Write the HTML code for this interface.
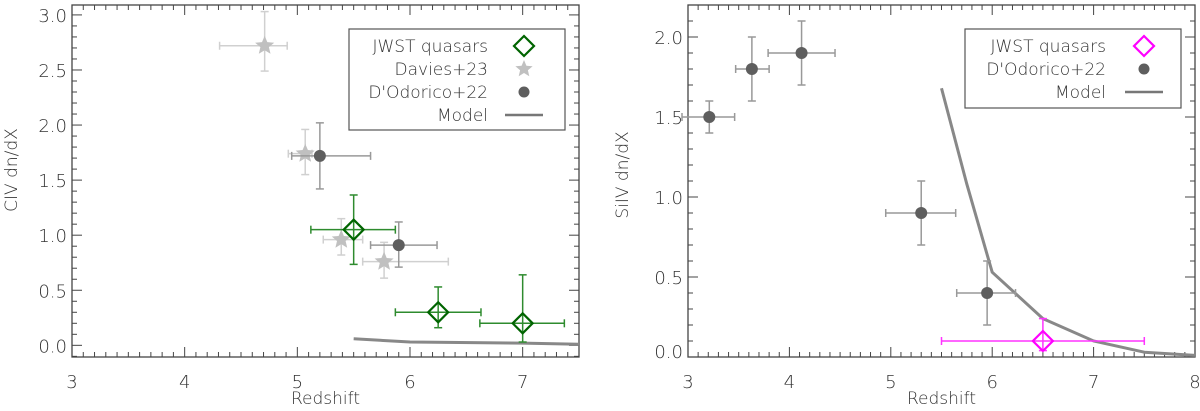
<!DOCTYPE html>
<html><head><meta charset="utf-8">
<style>
html,body{margin:0;padding:0;background:#fff;}
svg{display:block;font-family:"DejaVu Sans","Liberation Sans",sans-serif;}
text{fill:#333;font-weight:300;}
</style></head>
<body>
<svg id="chart" width="1200" height="411" viewBox="0 0 1200 411" xmlns="http://www.w3.org/2000/svg"></svg>
<script>
// ---- Left panel data (CIV) ----
const civJwstX=[5.50,6.25,7.00];
const civJwstY=[1.05,0.30,0.20];
const civJwstXlo=[5.12,5.87,6.62];
const civJwstXhi=[5.87,6.63,7.37];
const civJwstYlo=[0.735,0.16,0.03];
const civJwstYhi=[1.365,0.53,0.64];
const civDavX=[4.71,5.07,5.39,5.77];
const civDavY=[2.72,1.74,0.96,0.76];
const civDavXlo=[4.31,4.92,5.23,5.58];
const civDavXhi=[4.91,5.13,5.58,6.34];
const civDavYlo=[2.49,1.55,0.82,0.61];
const civDavYhi=[3.03,1.96,1.15,0.935];
const civOdoX=[5.20,5.90];
const civOdoY=[1.72,0.91];
const civOdoXlo=[4.95,5.65];
const civOdoXhi=[5.65,6.24];
const civOdoYlo=[1.42,0.71];
const civOdoYhi=[2.02,1.12];
const civModelX=[5.5,6.0,7.0,7.5];
const civModelY=[0.06,0.03,0.02,0.01];
const civXTicks=[3,4,5,6,7];
const civYTicks=["0.0","0.5","1.0","1.5","2.0","2.5","3.0"];
// ---- Right panel data (SiIV) ----
const siJwstX=[6.50];
const siJwstY=[0.10];
const siJwstXlo=[5.50];
const siJwstXhi=[7.50];
const siJwstYlo=[0.04];
const siJwstYhi=[0.24];
const siOdoX=[3.21,3.63,4.12,5.30,5.95];
const siOdoY=[1.50,1.80,1.90,0.90,0.40];
const siOdoXlo=[2.94,3.47,3.79,4.95,5.65];
const siOdoXhi=[3.46,3.80,4.45,5.64,6.23];
const siOdoYlo=[1.40,1.60,1.70,0.70,0.20];
const siOdoYhi=[1.60,2.00,2.10,1.10,0.60];
const siModelX=[5.5,5.75,6.0,6.5,7.0,7.5,8.0];
const siModelY=[1.68,1.08,0.53,0.24,0.10,0.03,0.01];
const siXTicks=[3,4,5,6,7,8];
const siYTicks=["0.0","0.5","1.0","1.5","2.0"];

const NS="http://www.w3.org/2000/svg";
const svg=document.getElementById('chart');
function mk(tag,attrs,parent){const e=document.createElementNS(NS,tag);for(const k in attrs)e.setAttribute(k,attrs[k]);(parent||svg).appendChild(e);return e;}

function panel(cfg){
  const g=mk('g',{});
  
  
  const X=v=>cfg.x0+(v-cfg.xmin)*(cfg.x1-cfg.x0)/(cfg.xmax-cfg.xmin);
  const Y=v=>cfg.y1-(v-cfg.ymin)*(cfg.y1-cfg.y0)/(cfg.ymax-cfg.ymin);
  const frame=mk('rect',{x:cfg.x0,y:cfg.y0,width:cfg.x1-cfg.x0,height:cfg.y1-cfg.y0,fill:'none',stroke:'#444','stroke-width':1.3},g);
  
  
  for(let i=Math.round(cfg.xmin*10);i<=Math.round(cfg.xmax*10);i++){
    const v=i/10,px=X(v),maj=i%10===0,L=maj?10:5;
    mk('line',{x1:px,x2:px,y1:cfg.y1,y2:cfg.y1-L,stroke:'#444','stroke-width':1},g);
    mk('line',{x1:px,x2:px,y1:cfg.y0,y2:cfg.y0+L,stroke:'#444','stroke-width':1},g);
  }
  cfg.xticks.forEach(v=>{const t=mk('text',{x:X(v),y:cfg.y1+31,'font-size':18,'text-anchor':'middle'},g);t.textContent=v;
    
    });
  for(let i=Math.ceil(cfg.ymin*10-1e-6);i<=Math.floor(cfg.ymax*10+1e-6);i++){
    const v=i/10,py=Y(v),maj=i%5===0,L=maj?10:5;
    mk('line',{x1:cfg.x0,x2:cfg.x0+L,y1:py,y2:py,stroke:'#444','stroke-width':1},g);
    mk('line',{x1:cfg.x1,x2:cfg.x1-L,y1:py,y2:py,stroke:'#444','stroke-width':1},g);
  }
  cfg.yticks.forEach(s=>{const v=parseFloat(s);let py=Y(v);if(py>cfg.y1-6)py=cfg.y1-6;
    const t=mk('text',{x:cfg.x0-5,y:py+7,'font-size':18,'text-anchor':'end'},g);t.textContent=s;
    
    });
  const xt=mk('text',{x:(cfg.x0+cfg.x1)/2,y:404,'font-size':17,'text-anchor':'middle'},g);xt.textContent='Redshift';
  
  
  const yt=mk('text',{x:0,y:0,'font-size':17,'text-anchor':'middle',transform:`translate(${cfg.ytx},${cfg.yty}) rotate(-90)`},g);yt.textContent=cfg.ytitle;
  
  
  const pts=cfg.mX.map((v,i)=>X(v)+','+Y(cfg.mY[i])).join(' ');
  const ml=mk('polyline',{points:pts,fill:'none',stroke:'#888','stroke-width':3},g);
  
  
  function err(xs,ys,xlo,xhi,ylo,yhi,col,sw){
    xs.forEach((v,i)=>{
      const eg=mk('g',{stroke:col,'stroke-width':sw},g);
      
      
      const px=X(v),py=Y(ys[i]);
      const a=Math.max(X(xlo[i]),cfg.x0-6),b=X(xhi[i]);
      mk('line',{x1:a,x2:b,y1:py,y2:py},eg);
      mk('line',{x1:a,x2:a,y1:py-4,y2:py+4},eg);
      mk('line',{x1:b,x2:b,y1:py-4,y2:py+4},eg);
      const c=Y(yhi[i]),d=Y(ylo[i]);
      mk('line',{x1:px,x2:px,y1:c,y2:d},eg);
      mk('line',{x1:px-4,x2:px+4,y1:c,y2:c},eg);
      mk('line',{x1:px-4,x2:px+4,y1:d,y2:d},eg);
    });
  }
  function star(cx,cy,r,col,parent,name){
    let p=[];for(let k=0;k<10;k++){const a=-Math.PI/2+k*Math.PI/5,rr=k%2?r*0.45:r;p.push((cx+rr*Math.cos(a)).toFixed(1)+','+(cy+rr*Math.sin(a)).toFixed(1));}
    const s=mk('polygon',{points:p.join(' '),fill:col},parent);
    
    
  }
  function diamond(cx,cy,col,parent,name){
    const d=mk('polygon',{points:`${cx},${cy-10} ${cx+10},${cy} ${cx},${cy+10} ${cx-10},${cy}`,fill:'none',stroke:col,'stroke-width':2.2},parent);
    
    
  }
  if(cfg.dav){
    const d=cfg.dav;err(d.x,d.y,d.xlo,d.xhi,d.ylo,d.yhi,'#d0d0d0',1.5);
    d.x.forEach((v,i)=>star(X(v),Y(d.y[i]),10,'#c0c0c0',g,'davies-point'));
  }
  const o=cfg.odo;err(o.x,o.y,o.xlo,o.xhi,o.ylo,o.yhi,'#999',1.5);
  o.x.forEach((v,i)=>{const c=mk('circle',{cx:X(v),cy:Y(o.y[i]),r:6,fill:'#5e5e5e'},g);
    
    });
  const j=cfg.jw;err(j.x,j.y,j.xlo,j.xhi,j.ylo,j.yhi,cfg.jcolLight,1.5);
  j.x.forEach((v,i)=>diamond(X(v),Y(j.y[i]),cfg.jcol,g,'jwst-point'));
  const L=cfg.leg;
  const lg=mk('g',{},g);
  
  
  mk('rect',{x:L.x,y:L.y,width:L.w,height:L.h,fill:'#fff',stroke:'#555','stroke-width':1.2},lg);
  L.rows.forEach((r,i)=>{
    const cy=L.y+17+i*23;
    const t=mk('text',{x:L.tx,y:cy+6,'font-size':17,'text-anchor':'end'},lg);t.textContent=r.label;
    
    
    const mx=L.mx;
    if(r.type==='d')diamond(mx,cy,cfg.jcol,lg,'legend-diamond');
    else if(r.type==='s')star(mx,cy,9,'#c0c0c0',lg,'legend-star');
    else if(r.type==='c'){const c=mk('circle',{cx:mx,cy:cy,r:5.5,fill:'#5e5e5e'},lg);}
    else {const l=mk('line',{x1:mx-19,x2:mx+19,y1:cy,y2:cy,stroke:'#777','stroke-width':2.5},lg);}
  });
}

panel({name:'civ-panel',x0:72,x1:579,y0:5,y1:357,xmin:3,xmax:7.5,ymin:-0.106,ymax:3.09,
  xticks:civXTicks,yticks:civYTicks,ytitle:'CIV dn/dX',ytx:17,yty:170,
  mX:civModelX,mY:civModelY,jcol:'#006400',jcolLight:'#2e8b2e',
  jw:{x:civJwstX,y:civJwstY,xlo:civJwstXlo,xhi:civJwstXhi,ylo:civJwstYlo,yhi:civJwstYhi},
  dav:{x:civDavX,y:civDavY,xlo:civDavXlo,xhi:civDavXhi,ylo:civDavYlo,yhi:civDavYhi},
  odo:{x:civOdoX,y:civOdoY,xlo:civOdoXlo,xhi:civOdoXhi,ylo:civOdoYlo,yhi:civOdoYhi},
  leg:{x:349,y:29,w:216,h:101,tx:488,mx:524,rows:[{label:'JWST quasars',type:'d'},{label:'Davies+23',type:'s'},{label:"D'Odorico+22",type:'c'},{label:'Model',type:'l'}]}
});
panel({name:'siiv-panel',x0:688,x1:1195,y0:5,y1:357,xmin:3,xmax:8,ymin:0,ymax:2.2,
  xticks:siXTicks,yticks:siYTicks,ytitle:'SiIV dn/dX',ytx:628,yty:175,
  mX:siModelX,mY:siModelY,jcol:'#ff00ff',jcolLight:'#ff33ff',
  jw:{x:siJwstX,y:siJwstY,xlo:siJwstXlo,xhi:siJwstXhi,ylo:siJwstYlo,yhi:siJwstYhi},
  dav:null,
  odo:{x:siOdoX,y:siOdoY,xlo:siOdoXlo,xhi:siOdoXhi,ylo:siOdoYlo,yhi:siOdoYhi},
  leg:{x:965,y:29,w:216,h:79,tx:1106,mx:1144,rows:[{label:'JWST quasars',type:'d'},{label:"D'Odorico+22",type:'c'},{label:'Model',type:'l'}]}
});
</script>
</body></html>
